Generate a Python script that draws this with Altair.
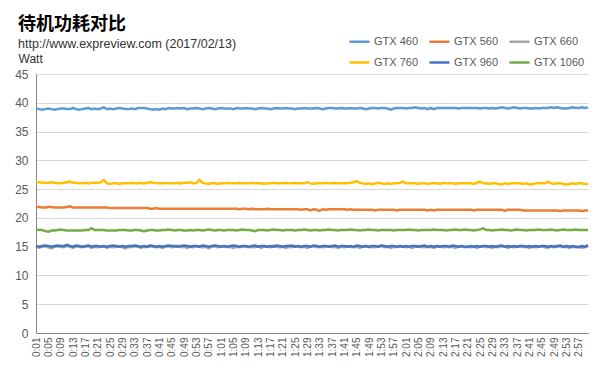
import altair as alt
import pandas as pd

# time labels 0:01 .. 3:00 (one sample per second)
times = [f"{s // 60}:{s % 60:02d}" for s in range(1, 181)]
tick_labels = times[::4]

series_names = ["GTX 460", "GTX 560", "GTX 660", "GTX 760", "GTX 960", "GTX 1060"]
series_colors = ["#5B9BD5", "#ED7D31", "#A5A5A5", "#FFC000", "#4472C4", "#70AD47"]

gtx460 = [
    39.0, 38.9, 38.8, 38.9, 39.0, 38.9, 38.8, 38.9, 39.0, 39.0, 38.9, 38.9, 39.1, 38.9, 38.8, 38.9, 39.0, 39.1, 38.9, 39.0,
    38.9, 39.0, 39.2, 38.9, 39.0, 38.9, 39.0, 39.1, 39.0, 38.9, 38.9, 39.0, 38.9, 39.1, 39.1, 39.1, 39.0, 38.9, 38.8, 38.9,
    38.8, 39.0, 38.9, 39.1, 39.0, 39.0, 39.1, 39.0, 39.1, 38.9, 39.0, 39.0, 39.1, 39.0, 38.9, 39.0, 39.1, 39.0, 38.9, 39.0,
    39.1, 39.0, 39.0, 39.0, 38.9, 39.1, 39.0, 39.0, 39.1, 39.0, 39.0, 38.9, 39.0, 39.1, 39.0, 39.0, 38.9, 39.0, 39.1, 39.0,
    39.0, 39.1, 39.0, 39.0, 38.9, 39.0, 39.0, 39.1, 39.0, 39.0, 39.0, 39.1, 39.0, 38.9, 39.0, 39.1, 39.1, 39.0, 39.0, 39.1,
    39.0, 39.0, 39.1, 39.0, 39.0, 39.1, 39.0, 38.9, 39.0, 39.1, 39.1, 39.0, 39.1, 39.1, 39.0, 38.8, 39.0, 39.1, 39.1, 39.1,
    39.0, 39.1, 39.1, 39.2, 39.1, 39.0, 39.1, 38.9, 39.1, 38.9, 39.1, 39.1, 39.1, 39.1, 39.1, 39.1, 39.1, 39.0, 39.1, 39.1,
    39.1, 39.1, 39.1, 39.1, 39.0, 39.1, 39.1, 39.0, 39.1, 39.0, 39.1, 39.2, 39.1, 39.0, 39.1, 39.2, 39.1, 39.0, 39.1, 39.1,
    39.0, 39.0, 39.1, 39.0, 39.1, 39.1, 39.1, 39.2, 39.1, 39.2, 39.1, 39.0, 39.0, 39.1, 39.2, 39.1, 39.1, 39.2, 39.1, 39.2,
]
gtx560 = [
    21.9, 21.9, 21.8, 21.8, 21.9, 21.9, 21.8, 21.8, 21.8, 21.8, 21.9, 22.0, 21.8, 21.8, 21.8, 21.8, 21.8, 21.8, 21.8, 21.8,
    21.8, 21.8, 21.8, 21.8, 21.7, 21.7, 21.7, 21.7, 21.7, 21.7, 21.7, 21.7, 21.7, 21.7, 21.7, 21.7, 21.7, 21.6, 21.6, 21.7,
    21.6, 21.6, 21.6, 21.6, 21.6, 21.6, 21.6, 21.6, 21.6, 21.6, 21.6, 21.6, 21.6, 21.6, 21.6, 21.6, 21.6, 21.6, 21.6, 21.6,
    21.6, 21.6, 21.6, 21.6, 21.6, 21.6, 21.5, 21.6, 21.6, 21.5, 21.6, 21.5, 21.5, 21.5, 21.5, 21.6, 21.5, 21.5, 21.5, 21.5,
    21.5, 21.5, 21.5, 21.5, 21.5, 21.5, 21.4, 21.5, 21.5, 21.3, 21.5, 21.4, 21.2, 21.5, 21.4, 21.5, 21.5, 21.5, 21.5, 21.5,
    21.5, 21.4, 21.5, 21.4, 21.4, 21.4, 21.4, 21.4, 21.4, 21.4, 21.3, 21.4, 21.4, 21.4, 21.4, 21.4, 21.4, 21.3, 21.4, 21.4,
    21.4, 21.4, 21.4, 21.4, 21.4, 21.4, 21.4, 21.3, 21.4, 21.3, 21.4, 21.4, 21.4, 21.4, 21.4, 21.4, 21.4, 21.4, 21.4, 21.4,
    21.4, 21.4, 21.3, 21.4, 21.4, 21.4, 21.4, 21.4, 21.4, 21.4, 21.4, 21.4, 21.2, 21.4, 21.4, 21.4, 21.4, 21.4, 21.3, 21.3,
    21.3, 21.3, 21.3, 21.3, 21.3, 21.3, 21.3, 21.3, 21.3, 21.3, 21.2, 21.3, 21.3, 21.3, 21.3, 21.3, 21.3, 21.2, 21.3, 21.3,
]
gtx660 = [
    15.0, 14.8, 15.0, 15.1, 14.9, 14.7, 15.0, 15.1, 15.0, 14.9, 15.2, 15.0, 14.8, 15.1, 15.0, 14.9, 15.0, 15.1, 14.8, 15.0,
    14.9, 15.0, 15.1, 14.8, 15.0, 14.9, 15.0, 15.1, 14.9, 14.7, 15.0, 14.9, 15.1, 15.0, 14.8, 15.0, 14.9, 15.1, 15.0, 14.9,
    15.0, 14.8, 15.0, 15.1, 14.9, 15.0, 15.2, 14.9, 15.0, 14.8, 15.0, 14.9, 15.1, 15.0, 14.9, 15.0, 14.7, 15.0, 15.1, 14.9,
    15.0, 15.1, 14.9, 15.0, 14.8, 15.0, 14.9, 15.1, 15.0, 14.9, 15.0, 14.9, 15.1, 14.8, 15.0, 15.0, 14.9, 15.2, 15.0, 14.9,
    15.0, 14.8, 15.0, 14.9, 15.1, 15.0, 14.9, 15.0, 14.8, 15.0, 15.1, 14.9, 15.0, 14.9, 15.0, 15.1, 14.9, 15.0, 14.8, 15.0,
    14.9, 15.1, 15.0, 14.9, 15.0, 14.8, 15.0, 15.1, 14.9, 15.0, 14.9, 15.0, 15.2, 14.9, 15.0, 14.8, 15.0, 14.9, 15.1, 15.0,
    14.9, 15.0, 14.8, 15.0, 15.1, 14.9, 15.0, 14.9, 15.0, 14.8, 15.0, 15.1, 14.9, 15.0, 14.9, 15.0, 14.8, 15.0, 15.1, 14.9,
    15.0, 14.9, 15.0, 14.8, 15.0, 15.1, 14.9, 15.0, 14.8, 15.0, 14.9, 15.1, 15.0, 14.8, 15.0, 14.9, 15.0, 15.1, 14.9, 15.0,
    14.8, 15.0, 14.9, 15.0, 15.1, 14.9, 14.8, 15.0, 14.9, 15.0, 15.1, 14.9, 15.0, 14.8, 15.0, 14.9, 15.0, 14.8, 14.9, 15.3,
]
gtx760 = [
    26.3, 26.2, 26.1, 26.1, 26.1, 26.2, 26.1, 26.0, 26.0, 26.1, 26.2, 26.3, 26.1, 26.1, 26.0, 26.0, 26.1, 26.0, 26.1, 26.1,
    26.1, 26.2, 26.6, 26.0, 25.9, 26.0, 26.0, 25.9, 26.0, 26.0, 26.0, 26.1, 26.0, 26.0, 26.1, 26.0, 26.1, 26.2, 26.1, 26.0,
    26.0, 26.0, 26.1, 26.0, 26.0, 26.0, 26.1, 26.0, 26.1, 26.1, 26.2, 26.0, 26.0, 26.6, 26.1, 26.0, 25.9, 26.0, 26.0, 25.9,
    26.0, 26.0, 26.1, 26.0, 26.0, 26.0, 26.1, 26.0, 26.0, 26.0, 26.1, 26.0, 26.0, 26.0, 25.9, 26.0, 26.0, 26.1, 26.0, 26.0,
    26.0, 26.1, 26.0, 26.0, 26.1, 26.0, 26.0, 26.0, 26.2, 26.0, 25.9, 26.0, 26.0, 26.0, 26.1, 26.0, 26.0, 26.1, 26.0, 26.0,
    26.0, 26.0, 26.1, 26.2, 26.4, 26.1, 26.0, 25.9, 26.0, 25.8, 26.0, 26.1, 26.0, 25.9, 26.0, 25.9, 26.0, 26.0, 26.1, 26.3,
    26.0, 26.0, 26.0, 26.0, 25.9, 26.0, 26.0, 25.9, 26.0, 26.0, 26.0, 25.9, 26.1, 26.0, 26.0, 26.0, 25.9, 26.0, 26.0, 26.0,
    26.0, 26.0, 25.9, 26.1, 26.3, 26.0, 26.0, 25.9, 26.0, 26.0, 25.9, 25.8, 26.0, 25.9, 26.0, 26.0, 26.0, 26.0, 25.9, 26.0,
    25.8, 25.9, 26.0, 26.1, 26.0, 26.0, 26.3, 26.0, 25.9, 26.0, 26.0, 25.9, 25.8, 25.9, 26.0, 25.9, 26.0, 26.0, 25.9, 25.9,
]
gtx960 = [
    15.1, 15.0, 15.1, 15.2, 15.1, 15.0, 15.1, 15.2, 15.1, 15.1, 15.3, 15.1, 15.0, 15.2, 15.1, 15.0, 15.1, 15.2, 15.0, 15.1,
    15.1, 15.0, 15.1, 15.0, 15.1, 15.2, 15.1, 15.0, 15.1, 15.0, 15.1, 15.1, 15.2, 15.1, 15.0, 15.1, 15.0, 15.2, 15.1, 15.0,
    15.1, 15.0, 15.1, 15.2, 15.1, 15.1, 15.0, 15.1, 15.2, 15.1, 15.0, 15.1, 15.1, 15.0, 15.2, 15.1, 15.0, 15.1, 15.2, 15.1,
    15.0, 15.1, 15.0, 15.1, 15.2, 15.1, 15.0, 15.1, 15.1, 15.0, 15.1, 15.2, 15.0, 15.1, 15.1, 15.0, 15.1, 15.0, 15.2, 15.1,
    15.0, 15.1, 15.1, 15.2, 15.0, 15.1, 15.0, 15.1, 15.1, 15.0, 15.2, 15.1, 15.0, 15.1, 15.1, 15.0, 15.1, 15.2, 15.0, 15.1,
    15.1, 15.0, 15.1, 15.0, 15.2, 15.1, 15.0, 15.1, 15.0, 15.1, 15.1, 15.0, 15.2, 15.1, 15.0, 15.1, 15.1, 15.0, 15.1, 15.0,
    15.1, 15.0, 15.1, 15.1, 15.0, 15.1, 15.2, 15.0, 15.1, 15.0, 15.1, 15.0, 15.1, 15.1, 15.0, 15.2, 15.1, 15.0, 15.1, 15.0,
    15.0, 15.1, 15.0, 15.1, 15.0, 15.1, 15.1, 15.0, 15.1, 15.0, 15.1, 15.2, 15.0, 15.1, 15.0, 15.1, 15.0, 15.1, 15.1, 15.0,
    15.1, 15.0, 15.1, 15.0, 15.1, 15.1, 15.0, 15.1, 15.0, 15.1, 15.2, 15.0, 15.1, 15.0, 15.1, 15.0, 14.9, 15.1, 15.0, 15.2,
]
gtx1060 = [
    18.0, 17.9, 17.9, 17.7, 17.6, 17.8, 17.8, 17.9, 18.0, 17.9, 17.8, 17.8, 17.8, 17.8, 17.8, 17.8, 17.9, 17.9, 18.2, 17.9,
    17.9, 17.9, 17.9, 17.8, 17.8, 17.8, 17.8, 17.9, 17.9, 17.9, 17.8, 17.8, 17.9, 17.9, 17.8, 17.7, 17.8, 17.9, 17.9, 17.8,
    17.8, 17.9, 17.9, 18.0, 17.9, 17.8, 17.9, 17.9, 17.8, 17.8, 17.9, 17.8, 17.9, 17.9, 17.8, 17.9, 18.0, 17.9, 17.8, 17.9,
    17.9, 17.8, 17.9, 17.9, 17.9, 17.8, 17.9, 18.0, 17.9, 17.9, 17.8, 17.7, 17.9, 17.9, 17.9, 17.8, 17.9, 18.0, 17.9, 17.9,
    17.8, 17.9, 17.9, 17.9, 17.8, 17.9, 17.9, 18.0, 17.9, 17.8, 17.9, 17.9, 17.8, 17.9, 17.9, 18.0, 17.9, 17.9, 17.8, 17.9,
    17.9, 17.9, 18.0, 17.9, 17.9, 17.8, 17.9, 17.9, 18.0, 17.9, 17.9, 17.8, 17.9, 17.9, 17.9, 17.9, 17.8, 17.9, 17.9, 17.9,
    17.9, 18.0, 17.9, 17.9, 17.8, 17.9, 17.9, 17.9, 17.9, 18.0, 17.9, 17.9, 17.9, 17.8, 17.9, 17.9, 18.0, 17.9, 17.9, 18.0,
    17.9, 17.9, 17.8, 17.9, 18.0, 18.2, 17.9, 17.9, 17.8, 17.9, 17.9, 18.0, 17.9, 17.9, 17.8, 17.9, 18.0, 17.9, 17.9, 17.8,
    17.9, 17.9, 17.9, 18.0, 17.9, 17.9, 17.9, 18.0, 17.9, 17.8, 17.9, 18.0, 17.9, 17.9, 17.9, 18.0, 17.9, 17.9, 17.9, 17.9,
]

all_series = [gtx460, gtx560, gtx660, gtx760, gtx960, gtx1060]
rows = []
for name, vals in zip(series_names, all_series):
    for t, v in zip(times, vals):
        rows.append({"time": t, "series": name, "watt": v})
df = pd.DataFrame(rows)

FONT = "Liberation Sans, Arial, Noto Sans CJK SC"

chart = alt.Chart(df).mark_line(strokeWidth=2.5).encode(
    x=alt.X(
        "time:O",
        sort=times,
        scale=alt.Scale(padding=0),
        axis=alt.Axis(
            title=None,
            values=tick_labels,
            labelAngle=-90,
            labelFontSize=10,
            labelColor="#595959",
            labelPadding=4,
            ticks=False,
            domainColor="#868686",
            grid=False,
        ),
    ),
    y=alt.Y(
        "watt:Q",
        scale=alt.Scale(domain=[0, 45]),
        axis=alt.Axis(
            title="Watt",
            titleAngle=0,
            titleAlign="left",
            titleBaseline="alphabetic",
            titleX=-18,
            titleY=-12,
            titleFontSize=12,
            titleFontWeight="normal",
            titleColor="#333333",
            values=[0, 5, 10, 15, 20, 25, 30, 35, 40, 45],
            labelFontSize=12,
            labelColor="#595959",
            labelPadding=8,
            ticks=False,
            domainColor="#868686",
            gridColor="#D9D9D9",
        ),
    ),
    color=alt.Color(
        "series:N",
        sort=series_names,
        scale=alt.Scale(domain=series_names, range=series_colors),
        legend=alt.Legend(
            title=None,
            orient="none",
            legendX=312,
            legendY=-44,
            columns=3,
            columnPadding=5,
            rowPadding=4,
            symbolType="stroke",
            symbolSize=400,
            symbolStrokeWidth=2.5,
            labelFontSize=11,
            labelColor="#595959",
            labelOffset=3,
            direction="horizontal",
        ),
    ),
).properties(
    width=552,
    height=259,
    padding={"left": 36, "top": 74, "right": 12, "bottom": 42},
    autosize=alt.AutoSizeParams(type="none"),
    title=alt.TitleParams(
        text="待机功耗对比",
        subtitle="http://www.expreview.com (2017/02/13)",
        anchor="start",
        frame="group",
        dx=-18,
        offset=-20,
        fontSize=18,
        fontWeight="bold",
        color="#000000",
        subtitleFontSize=12.5,
        subtitleColor="#333333",
        subtitlePadding=4,
    ),
).configure(
    font=FONT,
).configure_view(
    stroke=None,
)

chart.save("out.html", embed_options={"renderer": "svg", "actions": False})
